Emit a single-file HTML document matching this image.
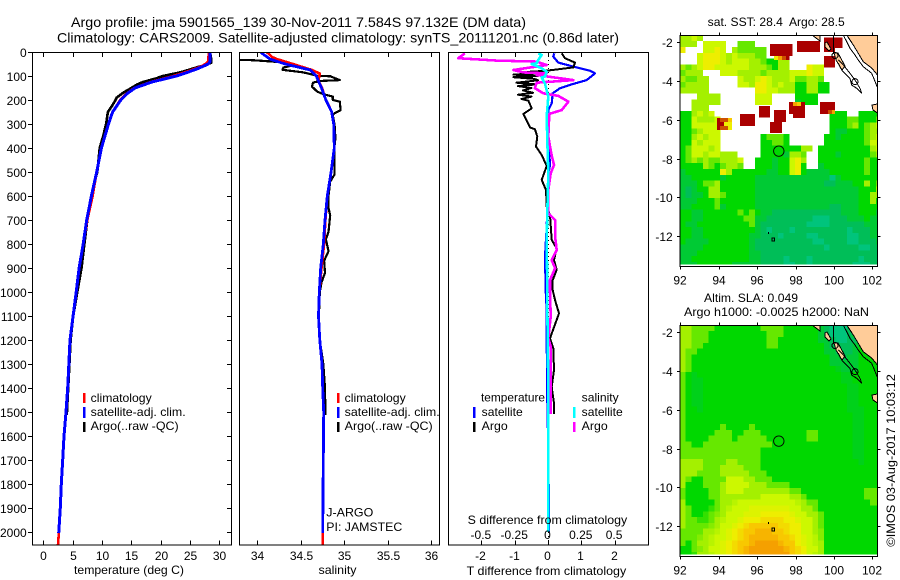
<!DOCTYPE html>
<html>
<head>
<meta charset="utf-8">
<title>Argo profile</title>
<style>
html,body{margin:0;padding:0;background:#fff;}
svg{display:block;}
text{font-family:"Liberation Sans",sans-serif;font-size:12px;fill:#000;white-space:pre;}
.ttl{font-size:14px;}
.sp{fill:none;stroke:#000;stroke-width:1;shape-rendering:crispEdges;}
</style>
</head>
<body>
<svg id="chart" xmlns="http://www.w3.org/2000/svg" width="900" height="580" viewBox="0 0 900 580">
<defs>
<clipPath id="clip-t"><rect x="32" y="52" width="199" height="493"/></clipPath>
<clipPath id="clip-s"><rect x="239.5" y="52" width="200" height="493"/></clipPath>
<clipPath id="clip-d"><rect x="448.5" y="52" width="200" height="493"/></clipPath>
<clipPath id="clip-m1"><rect x="680" y="35.5" width="197.5" height="229"/></clipPath>
<clipPath id="clip-m2"><rect x="680" y="325.5" width="197.5" height="229"/></clipPath>
<g id="coast-features">
<polygon points="846.7,35 853.3,45 863.3,61.7 871.7,68 877.5,75 877.5,35" fill="#ffcc99" stroke="#000" stroke-width="1"/>
<polyline points="843.3,35 850,48.3 855,55 858.3,60 863.3,66.7 871.7,73.3 877.3,87" fill="none" stroke="#000" stroke-width="1"/>
<line x1="833.5" y1="35" x2="833.5" y2="54" stroke="#000" stroke-width="1"/>
<polygon points="812,35 820,35 820,41 816,38" fill="#ffcc99" stroke="#000" stroke-width="1"/>
<polygon points="825,43 827,42 831,49 829,51 825,47" fill="#ffcc99" stroke="#000" stroke-width="1"/>
<polygon points="834,53 838,53 845,66 842,70 836,60" fill="#ffcc99" stroke="#000" stroke-width="1"/>
<circle cx="835" cy="55.5" r="3" fill="none" stroke="#000" stroke-width="1"/>
<polyline points="838.3,60 843.3,65 850,73.3 855,80 860,88.3 861.7,93.3 856.7,88.3 851.7,85 850,78.3 841.7,70 838.3,63.3" fill="none" stroke="#000" stroke-width="1"/>
<circle cx="855" cy="81.7" r="3" fill="none" stroke="#000" stroke-width="1"/>
<polygon points="872,105 877.5,104 877.5,113 873,110" fill="#ffcc99" stroke="#000" stroke-width="1"/>
<rect x="772" y="238" width="2.5" height="3" fill="none" stroke="#000" stroke-width="1"/>
<rect x="768" y="232" width="1" height="2" fill="#000"/>
</g>
</defs>

<text class="ttl" x="71" y="27" textLength="455" lengthAdjust="spacingAndGlyphs">Argo profile: jma 5901565_139 30-Nov-2011 7.584S 97.132E (DM data)</text>
<text class="ttl" x="57" y="42.5" textLength="562" lengthAdjust="spacingAndGlyphs">Climatology: CARS2009. Satellite-adjusted climatology: synTS_20111201.nc (0.86d later)</text>

<g id="maps"></g>
<g id="profiles"></g>

<g>
<rect x="83" y="393" width="2.5" height="10" fill="#f00"/>
<text x="90.7" y="402" textLength="61" lengthAdjust="spacingAndGlyphs">climatology</text>
<rect x="83" y="407" width="2.5" height="11" fill="#00f"/>
<text x="90.7" y="416" textLength="95" lengthAdjust="spacingAndGlyphs">satellite-adj. clim.</text>
<rect x="83" y="422" width="2.5" height="10" fill="#000"/>
<text x="90.7" y="430" textLength="88" lengthAdjust="spacingAndGlyphs">Argo(..raw -QC)</text>
</g>
<g>
<rect x="337" y="393" width="2.5" height="10" fill="#f00"/>
<text x="344.7" y="402" textLength="61" lengthAdjust="spacingAndGlyphs">climatology</text>
<rect x="337" y="407" width="2.5" height="11" fill="#00f"/>
<text x="344.7" y="416" textLength="95" lengthAdjust="spacingAndGlyphs">satellite-adj. clim.</text>
<rect x="337" y="422" width="2.5" height="10" fill="#000"/>
<text x="344.7" y="430" textLength="88" lengthAdjust="spacingAndGlyphs">Argo(..raw -QC)</text>
<text x="326.3" y="516.5" textLength="47" lengthAdjust="spacingAndGlyphs">J-ARGO</text>
<text x="326.3" y="531" textLength="76" lengthAdjust="spacingAndGlyphs">PI: JAMSTEC</text>
</g>
<g>
<text x="481" y="401.5" textLength="64" lengthAdjust="spacingAndGlyphs">temperature</text>
<text x="581.7" y="401.5" textLength="37" lengthAdjust="spacingAndGlyphs">salinity</text>
<rect x="473" y="407" width="2.5" height="11" fill="#00f"/>
<text x="481.7" y="416" textLength="41" lengthAdjust="spacingAndGlyphs">satellite</text>
<rect x="473" y="422" width="2.5" height="10" fill="#000"/>
<text x="481.7" y="430" textLength="26" lengthAdjust="spacingAndGlyphs">Argo</text>
<rect x="573" y="407" width="2.5" height="11" fill="#00ffff"/>
<text x="581.7" y="416" textLength="41" lengthAdjust="spacingAndGlyphs">satellite</text>
<rect x="573" y="422" width="2.5" height="10" fill="#f0f"/>
<text x="581.7" y="430" textLength="26" lengthAdjust="spacingAndGlyphs">Argo</text>
</g>

<text x="74" y="574" textLength="110" lengthAdjust="spacingAndGlyphs">temperature (deg C)</text>
<text x="318.5" y="574" textLength="38" lengthAdjust="spacingAndGlyphs">salinity</text>
<text x="466.7" y="575" textLength="159.5" lengthAdjust="spacingAndGlyphs">T difference from climatology</text>
<text x="467.7" y="524" textLength="159.5" lengthAdjust="spacingAndGlyphs">S difference from climatology</text>
<text x="707.7" y="26" textLength="137" lengthAdjust="spacingAndGlyphs">sat. SST: 28.4  Argo: 28.5</text>
<text x="704" y="302" textLength="94" lengthAdjust="spacingAndGlyphs">Altim. SLA: 0.049</text>
<text x="684" y="316" textLength="185" lengthAdjust="spacingAndGlyphs">Argo h1000: -0.0025 h2000: NaN</text>
<text transform="translate(895,546.7) rotate(-90)" textLength="172.5" lengthAdjust="spacingAndGlyphs">©IMOS 03-Aug-2017 10:03:12</text>
</svg>

<script>
/* ---------- profile data ---------- */
const depthTicks = [0,100,200,300,400,500,600,700,800,900,1000,1100,1200,1300,1400,1500,1600,1700,1800,1900,2000];
const tempTicks = [0,5,10,15,20,25,30];
const salTicks = [34,34.5,35,35.5,36];
const salTickLabels = ['34','34.5','35','35.5','36'];
const tDiffTicks = [-2,-1,0,1,2];
const sDiffTicks = [-0.5,-0.25,0,0.25,0.5];
const sDiffTickLabels = ['-0.5','-0.25','0','0.25','0.5'];

const climTempDepth = [0,40,50,60,75,100,125,150,175,200,250,300,400,500,600,700,800,900,1000,1200,1400,1500,1600,1700,1800,1900,2000,2054];
const climTemp = [28.2,28.1,27.6,26.9,25.3,22.2,18.3,15.5,14.1,13.1,11.8,11.1,9.9,9.1,8.4,7.5,6.8,6.1,5.6,4.55,4.15,3.87,3.53,3.3,3.07,2.9,2.65,2.5];
const satTempDepth = [0,40,50,60,75,100,125,150,175,200,250,300,400,500,600,700,800,900,1000,1200,1400,1500,1600,1700,1800,1900,2005];
const satTemp = [28.4,28.4,28.1,27.2,25.7,22.7,18.5,15.6,14.2,13.2,11.8,11.1,9.9,9.1,8.2,7.4,6.8,6.1,5.6,4.55,4.15,3.87,3.53,3.3,3.07,2.9,2.62];
const argoTempDepth = [0,30,45,55,65,75,85,100,110,125,135,150,170,190,200,225,250,300,350,400,500,550,600,700,800,900,1000,1100,1200,1300,1400,1512];
const argoTemp = [28.4,28.6,28.6,27.5,26.0,24.7,23.3,20.4,19.2,17,16,15,13.6,12.5,12.3,11.7,11,10.7,10.2,9.6,9.2,8.6,8.2,7.5,7.0,6.5,5.8,5.1,4.65,4.45,4.25,4.0];

const climSalDepth = [0,10,20,30,50,75,90,110,125,150,200,220,250,300,400,500,600,700,800,900,1000,1100,1200,1300,1400,1500,2000,2054];
const climSal = [34.108,34.14,34.166,34.23,34.41,34.63,34.72,34.71,34.71,34.745,34.79,34.82,34.857,34.88,34.887,34.85,34.807,34.785,34.77,34.74,34.714,34.705,34.72,34.745,34.753,34.765,34.753,34.755];
const satSalDepth = [0,10,30,50,75,100,125,150,200,250,300,400,500,600,700,800,900,1000,1100,1200,1300,1400,1500,2005];
const satSal = [34.04,34.07,34.15,34.32,34.61,34.68,34.71,34.74,34.79,34.857,34.88,34.887,34.85,34.807,34.78,34.76,34.73,34.714,34.705,34.72,34.745,34.753,34.765,34.753];
const argoSalDepth = [5,25,33,34,40,47,54,65,74,85,100,101,117,121,128,144,165,176,186,200,207,242,255,262,304,358,390,460,510,540,600,650,680,750,780,830,870,920,960,1000,1100,1200,1300,1400,1512];
const argoSal = [33.5,33.5,33.8,33.95,34.18,34.39,34.43,34.3,34.29,34.53,34.7,34.84,34.95,34.72,34.64,34.63,34.69,34.76,34.87,34.87,34.95,34.96,34.89,34.87,34.89,34.9,34.89,34.89,34.89,34.84,34.82,34.82,34.84,34.82,34.79,34.82,34.77,34.78,34.74,34.72,34.71,34.72,34.76,34.78,34.785];

const argoTDiffDepth = [6,26,44,64,78,84,88,94,100,105,112,118,128,135,142,150,160,170,178,186,196,203,235,258,314,322,353,394,429,475,533,575,644,679,783,818,867,908,950,992,1033,1089,1193,1235,1325,1395,1464,1508];
const argoTDiff = [0.41,0.51,0.81,0.76,-0.04,-0.74,-0.2,-1.04,-0.3,-1.04,-0.4,-0.3,-0.95,-0.35,-0.9,-0.5,-0.75,-0.45,-0.9,-0.5,-0.8,-0.59,-0.49,-0.74,-0.54,-0.39,-0.32,-0.36,-0.19,-0.04,-0.19,-0.06,-0.04,0.06,0.11,0.26,0.18,0.26,0.14,0.14,0.21,0.33,0.06,0.16,0.18,0.11,0.18,0.18];
const satTDiffDepth = [6,19,44,61,78,89,117,133,151,172,214,242,367,422,471,506,644,728,853,992,1075,1186,1450,1658,1936,2000];
const satTDiff = [0.19,0.16,0.31,0.76,1.26,1.41,1.16,0.76,0.36,0.14,0.11,0.01,0.01,0.04,0.06,0.01,-0.02,-0.04,-0.09,-0.07,-0.04,-0.04,-0.02,0.01,0.03,0.03];
const argoSDiffDepth = [6,26,36,40,54,75,85,89,96,117,128,151,172,183,207,242,258,353,429,471,506,575,672,700,769,825,867,901,950,992,1103,1193,1228,1380,1508];
const argoSDiff = [-0.624,-0.674,-0.386,-0.085,-0.01,-0.26,-0.185,-0.01,-0.085,0.19,-0.085,-0.098,-0.035,0.078,0.153,0.103,0.01,0.002,0.027,0.045,0.02,0.002,0.002,0.053,0.053,0.065,0.027,0.053,0.015,0.015,0.02,0.002,0.02,0.02,0.02];
const satSDiffDepth = [6,12,33,47,50,68,82,103,106,131,186,269,367,506,672,783,992,1050,1400,2000];
const satSDiff = [-0.073,-0.048,-0.073,-0.085,-0.123,-0.048,-0.01,-0.023,-0.048,-0.023,0.002,-0.01,-0.005,0.002,-0.005,-0.01,-0.005,-0.005,0.002,0.002];

/* ---------- map data (colour levels per 0.3 degree cell, -1 = no data) ---------- */
const mapLonTicks = [92,94,96,98,100,102];
const mapLatTicks = [-2,-4,-6,-8,-10,-12];
const argoLon = [97.132];
const argoLat = [-7.584];
const levelColors = ['#00c47c','#00be58','#00ca34','#00d800','#66e800','#a4f000','#ccf800','#eeee00','#f8c800','#f5a000','#cc5000','#aa0000'];

const sstRows = [
[5,5,6,5],
[5,5,5,-1,6,6,6,6,-1,-1,4,4,4],
[7,-1,-1,-1,6,6,7,6,-1,5,4,4,4,4,4],
[-1,-1,-1,6,7,7,7,6,5,6,5,5,5,4,4],
[-1,-1,-1,6,7,7,7,6,5,6,6,6,5,5,4,3,3,5,5],
[5,4,5,6,7,7,6,6,6,6,6,6,5,5,5,4,3,5,5,-1,-1,-1,7,6,6],
[4,5,5,5,-1,-1,-1,6,6,6,5,5,5,5,4,5,5,5,5,6,6,6,7,6,6],
[5,4,4,5,5,-1,-1,-1,-1,-1,6,5,5,6,7,6,5,5,5,6,4,4,5,5,4],
[4,5,5,5,5,-1,-1,-1,-1,-1,6,6,5,7,7,6,5,6,5,5,3,3,5,5,3,3],
[5,5,5,5,5,-1,-1,-1,-1,-1,-1,-1,-1,7,7,6,6,5,5,5,3,3,5,5,3,3],
[-1,-1,-1,5,5,5,5,-1,-1,-1,-1,-1,-1,6,6,6,-1,-1,-1,-1,3,3,3,3],
[-1,-1,5,5,5,5,5,-1,-1,-1,-1,-1,-1,6,6,6,-1,-1,-1,-1,2,3,3,3],
[-1,-1,5,5,5],
[3,3,5,6,5,6,-1,-1,-1,-1,-1,-1,-1,-1,-1,-1,-1,-1,-1,-1,-1,-1,-1,-1,-1,-1,3,3,3,-1,-1,3,3,3,3],
[3,3,6,5,5,5,6,-1,-1,-1,-1,-1,-1,-1,-1,-1,-1,-1,-1,-1,-1,-1,-1,-1,-1,-1,3,3,3,4,4,3,3,3,4],
[3,3,6,6,6,6,6,-1,-1,-1,-1,-1,-1,-1,-1,-1,-1,-1,-1,-1,-1,-1,-1,-1,-1,-1,3,3,3,4,5,3,4,5,6],
[3,3,4,5,6,6,6,-1,-1,-1,-1,-1,-1,-1,-1,-1,-1,-1,-1,-1,-1,-1,-1,-1,-1,-1,3,2,2,3,3,3,4,5,5],
[3,3,5,6,5,6,6,-1,-1,-1,-1,-1,-1,-1,3,4,4,4,3,-1,-1,-1,-1,-1,-1,3,3,2,3,3,3,3,4,5,6],
[3,3,6,5,6,6,6,-1,-1,-1,-1,-1,-1,-1,3,3,4,4,3,-1,-1,-1,-1,-1,-1,3,3,3,3,3,3,3,4,6,6],
[3,4,6,6,6,5,6,-1,-1,-1,-1,-1,-1,-1,3,3,3,3,3,3,3,5,5,-1,3,3,3,3,3,3,3,3,3,5,6],
[3,4,6,6,5,6,6,5,5,5,-1,-1,-1,-1,3,3,3,3,2,5,5,4,-1,-1,3,3,3,2,3,3,3,3,3,4,5],
[3,4,5,4,5,4,4,5,5,5,6,-1,-1,3,3,3,2,3,3,6,7,5,-1,-1,3,3,3,3,3,3,3,3,4,3,3],
[3,3,3,3,5,4,3,4,5,5,4,-1,-1,3,3,3,2,3,3,6,7,3,-1,-1,2,3,3,3,3,3,3,3,4,3,3],
[2,3,3,3,3,3,3,7,5,3,3,3,3,3,3,2,2,3,3,6,7,3,2,2,2,2,3,3,3,3,3,3,4,3,3],
[2,2,3,3,3,3,3,2,3,3,3,3,3,2,2,2,2,2,2,2,2,2,2,2,2,2,0,2,3,3,3,3,3,3,3],
[2,2,2,3,4,4,5,3,3,3,3,3,3,2,2,2,2,2,2,2,2,2,2,2,2,1,1,2,2,2,3,3,5,3,4],
[2,1,2,3,3,5,5,3,3,3,3,3,3,2,2,2,2,2,2,2,2,2,2,2,2,2,2,2,2,2,2,3,3,3,5],
[2,1,2,2,3,5,5,4,3,3,3,3,3,2,2,2,2,2,2,2,2,2,2,2,2,2,2,2,2,2,2,3,3,5,5],
[2,2,2,3,3,3,4,3,3,3,3,3,3,2,2,2,2,2,2,2,2,2,2,2,2,2,2,2,2,2,2,3,3,5,3],
[2,2,3,3,3,3,4,2,3,3,3,3,3,2,2,2,2,2,2,2,2,2,2,2,2,2,1,1,2,2,2,3,3,3,3],
[3,3,2,2,3,3,3,3,3,3,4,3,4,3,2,2,1,1,1,1,1,1,1,1,1,1,1,1,2,2,2,3,3,3,2],
[3,3,2,2,3,3,3,3,3,3,3,4,4,2,2,1,1,1,1,1,1,1,1,0,0,0,1,1,1,2,2,2,3,2,2],
[3,2,2,3,3,3,3,3,3,3,3,3,4,2,1,1,1,1,1,1,1,1,0,0,0,0,1,1,1,1,1,1,2,2,2],
[3,3,2,2,3,3,3,3,3,3,3,3,3,2,1,0,1,1,1,0,1,1,1,1,1,1,1,1,1,0,1,1,1,2,2],
[3,3,2,2,3,3,3,3,3,3,3,3,2,2,1,1,1,0,1,1,1,1,0,0,1,1,1,1,1,0,0,1,1,2,2],
[3,2,2,2,2,3,3,3,3,3,3,3,2,1,1,1,1,1,1,1,1,1,1,0,0,1,1,1,1,0,0,1,1,1,2],
[2,2,2,2,3,3,3,3,3,3,3,3,2,1,1,1,1,1,1,1,1,1,1,1,1,0,1,1,1,1,1,0,0,1,1],
[2,2,2,3,3,3,3,3,3,3,3,3,2,2,1,1,1,1,1,1,1,1,1,1,1,1,1,1,1,1,1,1,1,1,1],
[2,2,3,3,3,3,3,3,3,3,3,3,2,2,1,1,1,1,0,1,1,1,0,1,1,1,1,1,1,1,1,0,1,1,1],
[2,2,2,3,3,3,3,3,3,2,2,2,2,2,1,1,1,1,0,0,1,1,0,1,1,1,1,1,1,1,0,0,0,1,1]
];
/* warm isolated SST patches: lon0, lon1, lat0, lat1, level */
const sstPatches = [
[96.67,97.85,-2.09,-2.71,11],[98.08,99.28,-1.93,-2.5,11],[99.48,100.46,-1.74,-2.29,11],[99.48,100.06,-2.29,-2.5,11],
[99.48,100.06,-2.71,-3.31,11],[96.10,96.67,-5.29,-5.89,11],[96.88,97.51,-5.5,-6.11,11],[96.67,97.30,-6.11,-6.68,11],
[97.66,98.49,-5.08,-5.70,11],[97.87,98.49,-5.70,-5.91,11],[99.28,100.06,-5.08,-5.70,11],[95.11,95.89,-5.70,-6.32,11],
[93.91,94.69,-5.91,-6.53,11],[96.88,97.09,-2.71,-2.92,7],[97.09,97.30,-2.71,-2.92,9],[97.30,97.51,-2.71,-2.92,10],[97.51,97.7,-2.71,-2.92,11],
[97.87,98.08,-5.08,-5.29,9],[98.08,98.29,-5.08,-5.29,8],[99.69,99.9,-5.5,-5.7,10],[99.9,100.06,-5.5,-5.7,9],
[94.07,94.48,-5.91,-6.11,10],[94.48,94.69,-5.91,-6.11,8],[94.28,94.69,-6.11,-6.32,7],[94.07,94.48,-6.32,-6.53,10],[94.48,94.69,-6.32,-6.53,7]
];
const slaRows = [
[5,5,4,4,4,4,3,3,3,3,3,3,3,3,4,4,4,4,3,3,3,3,3,3,2,1,0,0,0,1,3,3,3,3,3],
[5,5,4,4,4,3,3,3,3,3,3,3,3,3,3,4,4,4,3,3,3,3,3,3,2,1,0,0,0,1,3,3,3,3,3],
[5,5,4,4,4,3,3,3,3,3,3,3,3,3,3,4,4,3,3,3,3,3,3,3,2,2,1,0,0,1,1,3,3,3,3],
[5,5,4,4,3,3,3,3,3,3,3,3,3,3,3,4,4,3,3,3,3,3,3,3,3,2,1,1,1,1,2,3,3,3,3],
[5,4,4,3,3,3,3,3,3,3,3,3,3,3,3,3,3,3,3,3,3,3,3,3,3,2,2,1,1,1,2,3,3,3,3],
[5,4,3,3,3,3,3,3,3,3,3,3,3,3,3,3,3,3,3,3,3,3,3,3,3,3,2,2,1,2,2,3,3,3,3],
[5,4,3,3,3,3,3,3,3,3,3,3,3,3,3,3,3,3,3,3,3,3,3,3,3,3,2,2,2,2,2,3,3,3,3],
[5,4,3,3,3,3,3,3,3,3,3,3,3,3,3,3,3,3,3,3,3,3,3,3,3,3,3,2.5,2,2,2,3,3,3,3],
[4,3,2.5,3,3,3,3,3,3,3,3,3,3,3,3,3,3,3,3,3,3,3,3,3,3,3,3,3,2.5,2.5,3,3,3,3,3],
[4,3,2.5,2.5,3,3,3,3,3,3,3,3,3,3,3,3,3,3,3,3,3,3,3,3,3,3,3,3,2.5,2.5,3,3,3,3,3],
[4,3,2.5,2.5,3,3,3,3,3,3,3,3,3,3,3,3,3,3,3,3,3,3,3,3,3,3,3,3,3,2.5,2.5,3,3,3,3],
[4,3,2.5,2.5,3,3,3,3,3,3,3,3,3,3,3,3,3,3,3,3,3,3,3,3,3,3,3,3,3,2.5,2.5,3,3,3,3],
[4,3,2.5,2.5,3,3,3,3,3,3,3,3,3,3,3,3,3,3,3,3,3,3,3,3,3,3,3,3,3,2.5,2.5,3,3,3,3],
[4,3,2.5,2.5,3,3,3,3,3,3,3,3,3,3,3,3,3,3,3,3,3,3,3,3,3,3,3,3,3,2.5,2.5,3,3,3,3],
[4,3,3,2.5,3,3,3,3,3,3,3,3,3,3,3,3,3,3,3,3,3,3,3,3,3,3,3,3,3,2.5,2.5,2.5,3,3,3],
[4,3,3,3,3,3,3,3,3,3,3,3,3,3,3,3,3,3,3,3,3,3,3,3,3,3,3,3,3,3,2.5,2.5,3,3,3],
[4,3,3,3,3,3,3,3,3,3,3,3,3,3,3,3,3,3,3,3,3,3,3,3,3,3,3,3,3,3,2.5,2.5,3,3,3],
[4,3,3,3,3,3,3,4,3,3,3,3,4,3,3,3,3,3,3,3,3,3,3,3,3,3,3,3,3,3,2.5,2.5,3,3,3],
[4,3,3,3,3,3,4,4,4,3,3,4,4,4,3,3,3,3,3,3,3,3,4,4,3,3,3,3,3,3,2.5,2.5,3,3,3],
[4,3,3,3,3,4,4,4,4,3,4,4,4,4,4,3,3,3,3,3,3,3,4,4,3,3,3,3,3,3,2.5,2.5,3,3,3],
[4,4,3,3,4,4,4,4,4,4,4,4,4,4,4,4,3,3,3,3,3,3,3,3,3,3,3,3,3,3,2.5,2.5,3,3,3],
[4,4,4,4,4,4,4,4,4,4,4,4,4,4,3,3,3,3,3,3,3,3,3,3,3,3,3,3,3,3,2.5,2.5,3,3,3],
[4,4,4,4,4,4,4,4,4,4,4,4,4,4,3,3,3,3,3,3,3,3,3,3,3,3,3,3,3,3,2.5,2.5,3,3,3],
[5,5,5,5,4,4,4,4,5,5,4,4,4,4,3,3,3,3,3,3,3,3,3,3,3,3,3,3,3,3,3,2.5,3,3,3],
[5,5,5,5,4,4,4,5,5,5,5,4,4,4,3,3,3,3,3,3,3,3,3,3,3,3,3,3,3,3,3,3,3,3,3],
[5,5,5,4,4,4,4,5,5,5,5,5,4,4,4,3,3,3,3,3,3,3,3,3,3,3,3,3,3,3,3,3,3,3,3],
[5,4,3,3,4,4,4,4,6,6,6,5,5,4,4,4,3,3,3,3,3,3,3,3,3,3,3,3,3,3,3,3,3,3,3],
[5,3,3,3,4,4,4,5,6,6,6,6,5,5,5,4,4,4,4,3,3,3,3,3,3,3,3,3,3,3,3,3,3,3,3],
[4,3,3,3,3,4,4,5,6,6,6,5,5,5,5,5,5,5,5,4,4,3,3,3,3,3,3,3,3,3,3,3,4,4,4],
[4,3,3,3,3,4,4,5,5,5,5,5,5,5,6,6,6,6,6,5,5,4,3,3,3,3,3,3,3,3,3,3,4,4,4],
[5,3,3,3,3,3,4,5,5,5.5,6,6,6,6,6,6,6,6,6,6,5.5,5,4,4,3,3,3,3,3,3,3,3,3,4,4],
[5,4,3,3,3,3.5,4,5,5.5,6,6,6,6.5,6.5,6.5,6.5,6.5,6.5,6.5,6,6,5,5,4,3,3,3,3,3,3,3,3,3,3,3],
[5,4,3,3,3.5,4,4.5,5,6,6,6,6.5,6.5,6.5,7,7,7,7,7,6.5,6,6,5,5,4,3,3,3,3,3,3,3,3,3,3],
[5,4,4,3.5,3.5,4,5,5.5,6,6,6.5,7,7,7,7.5,7.5,7.5,7.5,7,7,6.5,6,6,5,4,3,3,3,3,3,3,3,3,3,3],
[5,4,4,4,4,4.5,5,6,6,6.5,7,7.5,8,8,8,8,8,7.5,7.5,7,7,6,6,5,4,3,3,3,3,3,3,3,3,3,3],
[4,4,4,4,5,5,5.5,6,6.5,7,7.5,8,8,8.5,8.5,8.5,8,8,7.5,7,7,6,6,5,4.5,3,3,3,3,3,3,3,3,3,3],
[4,4,4,4.5,5,5.5,6,6,6.5,7,7.5,8,8.5,8.5,8.5,8.5,8.5,8,8,7.5,7,6.5,6,5.5,4.5,3,3,3,3,3,3,3,3,3,3],
[4,3,4,5,5,5.5,6,6.5,7,7.5,8,8,8.5,9,9,9,9,8.5,8,8,7,6.5,6,5.5,5,3,3,3,3,3,3,3,3,3,3],
[3,3,4,4.5,5,6,6,6.5,7,7.5,8,8.5,9,9,9,9,9,9,8.5,8,7.5,7,6,6,5,3,3,3,3,3,3,3,3,3,3],
[3,3,3.5,5,5,5.5,6,6.5,7,7.5,8,8.5,9,9,9,9,9,9,9,8,7.5,7,6,5.5,5,3,3,3,3,3,3,3,3,3,3]
];

/* ---------- axis functions ---------- */
const NS = 'http://www.w3.org/2000/svg';
const yDepth = d => 52 + d * 0.24;
const xTemp = t => 43.3 + t * 5.87;
const xSal = s => 257.3 + (s - 34) * 86.8;
const xTDiff = v => 548 + v * 33.3;
const xSDiff = v => 548 + v * 133.2;
const xLon = lon => 680.3 + (lon - 92) * 19.2;
const yLat = (lat, top) => top + 7 + (-2 - lat) * 19.37;

function colorOf(level) {
  const lo = Math.floor(level);
  const hi = Math.min(lo + 1, levelColors.length - 1);
  const f = level - lo;
  const parse = h => [1, 3, 5].map(i => parseInt(h.substr(i, 2), 16));
  const a = parse(levelColors[lo]);
  const b = parse(levelColors[hi]);
  return 'rgb(' + a.map((v, i) => Math.round(v + (b[i] - v) * f)).join(',') + ')';
}
function mk(tag, parent) {
  const el = document.createElementNS(NS, tag);
  parent.appendChild(el);
  return el;
}
function tickLine(parent, x1, y1, x2, y2) {
  const el = mk('line', parent);
  
  
  el.setAttribute('x1', x1);
  el.setAttribute('y1', y1);
  el.setAttribute('x2', x2);
  el.setAttribute('y2', y2);
  el.setAttribute('stroke', '#000');
  el.setAttribute('shape-rendering', 'crispEdges');
}
function label(parent, x, y, str, anchor) {
  const el = mk('text', parent);
  
  
  el.setAttribute('x', x);
  el.setAttribute('y', y);
  el.setAttribute('text-anchor', anchor);
  el.textContent = str;
}
function frame(parent, x, y, w, h, name) {
  const el = mk('rect', parent);
  
  
  el.setAttribute('class', 'sp');
  el.setAttribute('x', x);
  el.setAttribute('y', y);
  el.setAttribute('width', w);
  el.setAttribute('height', h);
}
function profile(parent, depths, values, xf, color, name, width) {
  const el = mk('polyline', parent);
  
  
  el.setAttribute('fill', 'none');
  el.setAttribute('stroke', color);
  el.setAttribute('stroke-width', width);
  el.setAttribute('stroke-linejoin', 'round');
  el.setAttribute('shape-rendering', 'crispEdges');
  el.setAttribute('points', depths.map((d, i) => xf(values[i]).toFixed(1) + ',' + yDepth(d).toFixed(1)).join(' '));
}

/* ---------- profile panels ---------- */
const prof = document.getElementById('profiles');
function panelGroup(clip, name) {
  const g = mk('g', prof);
  
  
  g.setAttribute('clip-path', 'url(#' + clip + ')');
  return g;
}
const gT = panelGroup('clip-t', 'temperature-series');
profile(gT, argoTempDepth, argoTemp, xTemp, '#000', 'temperature-argo-line', 2.6);
profile(gT, climTempDepth, climTemp, xTemp, '#f00', 'temperature-climatology-line', 2.6);
profile(gT, satTempDepth, satTemp, xTemp, '#00f', 'temperature-satellite-line', 3);
frame(prof, 32.5, 52.5, 199, 492.5, 'temperature-axes-frame');
depthTicks.forEach(d => {
  const y = Math.round(yDepth(d)) + 0.5;
  tickLine(prof, 28, y, 32, y);
  tickLine(prof, 227, y, 231.5, y);
  label(prof, 26.7, y + 4.5, String(d), 'end');
});
tempTicks.forEach(t => {
  const x = Math.round(xTemp(t)) + 0.5;
  tickLine(prof, x, 52.5, x, 57);
  tickLine(prof, x, 540.5, x, 545);
  label(prof, x, 560, String(t), 'middle');
});

const gS = panelGroup('clip-s', 'salinity-series');
profile(gS, argoSalDepth, argoSal, xSal, '#000', 'salinity-argo-line', 2.2);
profile(gS, climSalDepth, climSal, xSal, '#f00', 'salinity-climatology-line', 2.6);
profile(gS, satSalDepth, satSal, xSal, '#00f', 'salinity-satellite-line', 2.8);
frame(prof, 239.5, 52.5, 200, 492.5, 'salinity-axes-frame');
salTicks.forEach((s, i) => {
  const x = Math.round(xSal(s)) + 0.5;
  tickLine(prof, x, 52.5, x, 57);
  tickLine(prof, x, 540.5, x, 545);
  label(prof, x, 560, salTickLabels[i], 'middle');
});

const gD = panelGroup('clip-d', 'difference-series');
const zero = mk('line', gD);


zero.setAttribute('x1', 548.5);
zero.setAttribute('y1', 52);
zero.setAttribute('x2', 548.5);
zero.setAttribute('y2', 545);
zero.setAttribute('stroke', '#000');
zero.setAttribute('stroke-dasharray', '1 3');
profile(gD, satTDiffDepth, satTDiff, xTDiff, '#00f', 't-difference-satellite-line', 2.2);
profile(gD, argoTDiffDepth, argoTDiff, xTDiff, '#000', 't-difference-argo-line', 2);
profile(gD, argoSDiffDepth, argoSDiff, xSDiff, '#f0f', 's-difference-argo-line', 2.6);
profile(gD, satSDiffDepth, satSDiff, xSDiff, '#00ffff', 's-difference-satellite-line', 2.6);
frame(prof, 448.5, 52.5, 200, 492.5, 'difference-axes-frame');
tDiffTicks.forEach(v => {
  const x = Math.round(xTDiff(v)) + 0.5;
  tickLine(prof, x, 52.5, x, 57);
  tickLine(prof, x, 540.5, x, 545);
  label(prof, x - 1, 560, String(v), 'middle');
});
sDiffTicks.forEach((v, i) => {
  label(prof, xSDiff(v) - 0.5, 539, sDiffTickLabels[i], 'middle');
});

/* ---------- map panels ---------- */
const maps = document.getElementById('maps');
function drawMap(rows, patches, top, clip, name) {
  const g = mk('g', maps);
  
  
  const data = mk('g', g);
  data.setAttribute('clip-path', 'url(#' + clip + ')');
  data.setAttribute('shape-rendering', 'crispEdges');
  rows.forEach((row, r) => {
    row.forEach((level, c) => {
      if (level < 0) return;
      const lon0 = 91.98 + c * 0.3;
      const lat0 = -1.64 - r * 0.3;
      const cell = mk('rect', data);
      
      
      cell.setAttribute('x', xLon(lon0).toFixed(2));
      cell.setAttribute('y', yLat(lat0, top).toFixed(2));
      cell.setAttribute('width', 5.8);
      cell.setAttribute('height', 5.85);
      cell.setAttribute('fill', colorOf(level));
    });
  });
  patches.forEach(p => {
    const patch = mk('rect', data);
    
    
    patch.setAttribute('x', xLon(p[0]).toFixed(2));
    patch.setAttribute('y', yLat(p[2], top).toFixed(2));
    patch.setAttribute('width', (xLon(p[1]) - xLon(p[0])).toFixed(2));
    patch.setAttribute('height', (yLat(p[3], top) - yLat(p[2], top)).toFixed(2));
    patch.setAttribute('fill', colorOf(p[4]));
  });
  const coast = mk('use', data);
  
  
  coast.setAttribute('href', '#coast-features');
  coast.setAttribute('transform', 'translate(0,' + (top - 35.3) + ')');
  argoLon.forEach((lon, i) => {
    const ring = mk('circle', g);
    
    
    ring.setAttribute('cx', xLon(lon).toFixed(1));
    ring.setAttribute('cy', (yLat(argoLat[i], top) + 0.6).toFixed(1));
    ring.setAttribute('r', 5.2);
    ring.setAttribute('fill', 'none');
    ring.setAttribute('stroke', '#000');
    ring.setAttribute('stroke-width', 0.9);
  });
  frame(g, 680, top + 0.2, 197.5, 231, 'map-frame');
  const bottom = top + 231.2;
  mapLonTicks.forEach(lon => {
    const x = Math.round(xLon(lon)) + 0.5;
    tickLine(g, x, top - 3, x, top);
    tickLine(g, x, bottom, x, bottom + 3);
    label(g, x - 0.5, top + 249, String(lon), 'middle');
  });
  mapLatTicks.forEach(lat => {
    const y = Math.round(yLat(lat, top)) + 0.5;
    tickLine(g, 677, y, 680, y);
    tickLine(g, 877.5, y, 880.5, y);
    label(g, 672.7, y + 4.5, String(lat), 'end');
  });
}
drawMap(sstRows, sstPatches, 35.3, 'clip-m1', 'sst-map');
drawMap(slaRows, [], 325.3, 'clip-m2', 'sla-map');
</script>
</body>
</html>
